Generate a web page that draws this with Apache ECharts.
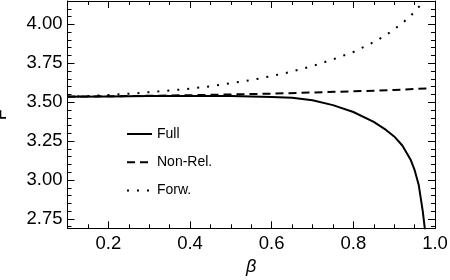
<!DOCTYPE html>
<html>
<head>
<meta charset="utf-8">
<script src="https://cdn.jsdelivr.net/npm/echarts@6/dist/echarts.min.js"></script>
<style>html,body{margin:0;padding:0;background:#fff}#c{width:450px;height:280px}</style>
</head>
<body>
<div id="c"></div>
<script>
const betaFull = [0.1,0.2,0.3,0.4,0.5,0.55,0.6,0.65,0.7,0.75,0.8,0.85,0.88,0.9,0.92,0.94,0.95,0.96,0.97,0.975,0.98];
const full     = [3.535,3.537,3.539,3.540,3.539,3.537,3.534,3.529,3.513,3.481,3.437,3.374,3.322,3.280,3.222,3.132,3.065,2.970,2.800,2.690,2.580];
const betaNR   = [0.1,0.2,0.3,0.4,0.5,0.6,0.7,0.8,0.9,0.99];
const nonRel   = [3.536,3.538,3.541,3.545,3.550,3.555,3.562,3.570,3.578,3.590];
const betaFw   = [0.1,0.15,0.2,0.25,0.3,0.35,0.4,0.45,0.5,0.55,0.6,0.65,0.7,0.75,0.8,0.85,0.88,0.9,0.92,0.94,0.96,0.97,0.98];
const forw     = [3.536,3.540,3.546,3.554,3.564,3.575,3.587,3.602,3.622,3.642,3.668,3.697,3.732,3.775,3.822,3.886,3.931,3.968,4.008,4.054,4.110,4.150,4.200];
const xMajor = [0.2,0.4,0.6,0.8,1.0];
const xMinor = [0.1,0.15,0.25,0.3,0.35,0.45,0.5,0.55,0.65,0.7,0.75,0.85,0.9,0.95];
const yMajor = [2.75,3.0,3.25,3.5,3.75,4.0];
const yMinor = [2.7,2.8,2.85,2.9,2.95,3.05,3.1,3.15,3.2,3.3,3.35,3.4,3.45,3.55,3.6,3.65,3.7,3.8,3.85,3.9,3.95,4.05,4.1,4.15];
const names = ['Full','Non-Rel.','Forw.'];

const FONT = '"Liberation Sans", Arial, sans-serif';
const xR = {min:0.1, max:1.0}, yR = {min:2.69, max:4.15};
function xa(pos, vals, len, labels, line){
  return Object.assign({type:'value', position:pos, gridIndex:0}, xR, {
    splitLine:{show:false},
    axisLine:{show:line, onZero:false, lineStyle:{color:'#000', width:1}},
    axisTick:{show:true, inside:true, length:len, customValues:vals, lineStyle:{color:'#000', width:1}},
    axisLabel:labels ? {show:true, customValues:vals, color:'#000', fontSize:18.5, fontFamily:FONT, margin:6,
      formatter:v=>v.toFixed(1)} : {show:false}
  });
}
function ya(pos, vals, len, labels, line){
  return Object.assign({type:'value', position:pos, gridIndex:0}, yR, {
    splitLine:{show:false},
    axisLine:{show:line, onZero:false, lineStyle:{color:'#000', width:1}},
    axisTick:{show:true, inside:true, length:len, customValues:vals, lineStyle:{color:'#000', width:1}},
    axisLabel:labels ? {show:true, customValues:vals, color:'#000', fontSize:18.5, fontFamily:FONT, margin:5,
      formatter:v=>v.toFixed(2)} : {show:false}
  });
}
const xAxes = [xa('bottom', xMajor, 7, true, true), xa('bottom', xMinor, 4, false, false),
               xa('top', xMajor, 7, false, true), xa('top', xMinor, 4, false, false)];
Object.assign(xAxes[0], {name:'β', nameLocation:'middle', nameGap:30,
  nameTextStyle:{color:'#000', fontSize:18, fontStyle:'italic', fontFamily:FONT}});
const yAxes = [ya('left', yMajor, 7, true, true), ya('left', yMinor, 4, false, false),
               ya('right', yMajor, 7, false, true), ya('right', yMinor, 4, false, false)];
Object.assign(yAxes[0], {name:'F', nameLocation:'middle', nameGap:57,
  nameTextStyle:{color:'#000', fontSize:18, fontFamily:FONT}});

function pairs(xs, ys){ return xs.map((x,i)=>[x, ys[i]]); }
const chart = echarts.init(document.getElementById('c'), null, {renderer:'canvas'});
chart.setOption({
  animation:false,
  backgroundColor:'#fff',
  grid:{left:67.5, top:1, width:367.5, height:227.3, containLabel:false, outerBoundsMode:'none'},
  xAxis:xAxes,
  yAxis:yAxes,
  legend:{
    orient:'vertical', left:121, top:122, itemWidth:25, itemHeight:14, itemGap:14.3,
    itemStyle:{color:'rgba(0,0,0,0)', borderColor:'rgba(0,0,0,0)', borderWidth:0, opacity:0},
    textStyle:{color:'#000', fontSize:14, fontFamily:FONT},
    data:names
  },
  series:[
    {name:names[0], type:'line', data:pairs(betaFull, full), showSymbol:false, symbol:'none', clip:true,
     lineStyle:{color:'#000', width:2, type:'solid'}, itemStyle:{color:'#000'}},
    {name:names[1], type:'line', data:pairs(betaNR, nonRel), showSymbol:false, symbol:'none', clip:true,
     lineStyle:{color:'#000', width:2, type:[8,5]}, itemStyle:{color:'#000'}},
    {name:names[2], type:'line', data:pairs(betaFw, forw), showSymbol:false, symbol:'none', clip:true,
     lineStyle:{color:'#000', width:2, type:[2,8]}, itemStyle:{color:'#000'}}
  ]
});
</script>
</body>
</html>
